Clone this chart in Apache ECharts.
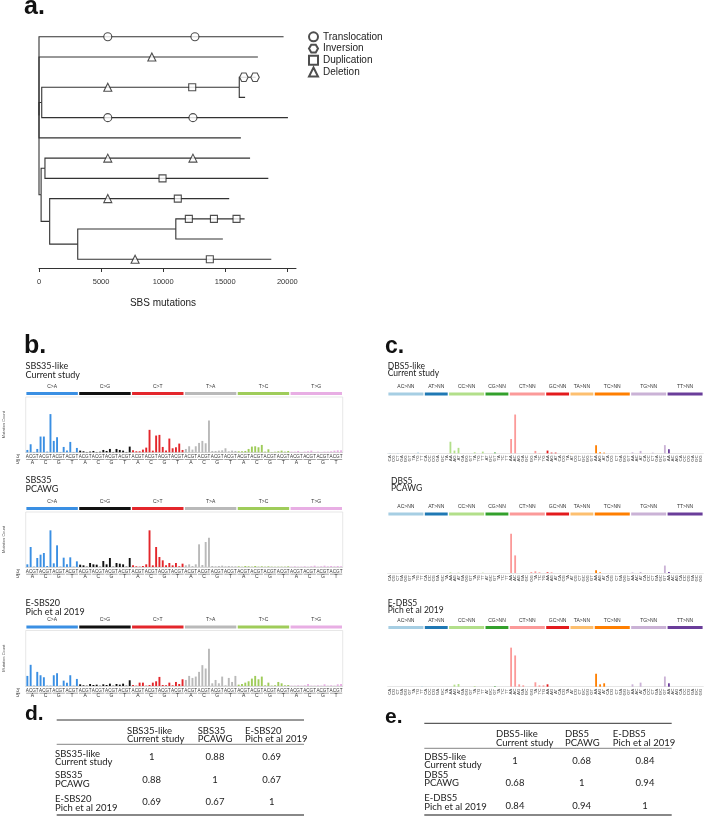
<!DOCTYPE html>
<html><head><meta charset="utf-8">
<script src="https://cdn.jsdelivr.net/npm/echarts@6/dist/echarts.min.js"></script>
<style>html,body{margin:0;padding:0;background:#fff}#c{width:705px;height:820px}</style>
</head><body><div id="c"></div>
<script>
// ---------- Panel a: phylogenetic tree (SBS mutations) ----------
const treeTicks = [0, 5000, 10000, 15000, 20000];
const branchStart = [0, 0, 0, 0, 0, 220, 220, 16130, 16130, 170, 170, 480, 480, 860, 860, 3120, 3120, 11020, 11020];
const branchEnd   = [19700, 17630, 220, 16260, 170, 16130, 20050, 17450, 16600, 480, 860, 17000, 18470, 15320, 3120, 11020, 18710, 16560, 14810];
const branchRow   = [1, 2, 4.25, 6, 8.81, 3.5, 5, 3, 4, 7.5, 10.125, 7, 8, 9, 11.25, 10.5, 12, 10, 11];
const parentRow   = [4.9, 4.9, 4.9, 4.9, 4.9, 4.25, 4.25, 3.5, 3.5, 8.81, 8.81, 7.5, 7.5, 10.125, 10.125, 11.25, 11.25, 10.5, 10.5];

const eventNames = ['Translocation', 'Inversion', 'Duplication', 'Deletion'];
const translocationX = [5540, 12560, 5540, 12400];
const translocationRow = [1, 1, 5, 5];
const inversionX = [16500, 17400];
const inversionRow = [3, 3];
const duplicationX = [12340, 9950, 11180, 12070, 14090, 15910, 13760];
const duplicationRow = [3.5, 8, 9, 10, 10, 10, 12];
const deletionX = [9090, 5540, 5540, 12400, 5540, 7740];
const deletionRow = [2, 3.5, 7, 7, 9, 12];

// ---------- Panel b: SBS 96-channel profiles ----------
const sbsTypes = ['C>A', 'C>G', 'C>T', 'T>A', 'T>C', 'T>G'];
const bases = ['A', 'C', 'G', 'T'];
const sbsTitles = [['SBS35-like', 'Current study'], ['SBS35', 'PCAWG'], ['E-SBS20', 'Pich et al 2019']];
const sbsCurrent = [
  7,24,1,10,47,47,2,114,34,45,1,16,5,31,1,13,
  5,3,1,2,4,1,2,7,4,10,1,10,7,5,1,17,
  6,3,3,8,14,67,5,50,52,16,5,41,12,15,26,7,
  10,18,8,18,28,34,27,95,4,4,5,6,12,3,5,4,
  3,3,4,10,17,18,15,22,2,9,1,2,3,5,2,4,
  2,2,4,1,2,3,5,1,2,1,2,2,3,5,6,6];
const sbsPcawg = [
  8,60,1,27,37,42,3,110,11,65,1,28,8,29,1,17,
  7,5,1,12,8,7,1,18,8,27,1,12,10,8,1,27,
  5,2,1,3,8,110,5,60,30,20,5,12,5,12,2,10,
  5,8,3,8,68,6,75,88,3,2,3,4,2,3,2,2,
  2,1,3,2,1,3,1,2,1,2,1,1,1,1,1,2,
  1,2,1,1,2,1,2,4,1,2,4,2,3,2,3,2];
const sbsPich = [
  30,63,1,42,32,26,1,1,32,38,1,16,10,32,1,21,
  5,2,1,6,3,4,1,5,3,7,1,6,4,7,1,17,
  3,1,10,10,1,3,10,14,27,3,2,10,2,12,6,20,
  18,30,24,28,42,62,52,111,8,18,8,28,2,24,12,30,
  4,6,10,14,22,30,20,28,2,10,1,2,12,8,2,3,
  1,1,2,1,2,6,1,1,2,1,5,1,2,1,5,6];

// ---------- Panel c: DBS 78-channel profiles ----------
const dbsRefs = ['AC', 'AT', 'CC', 'CG', 'CT', 'GC', 'TA', 'TC', 'TG', 'TT'];
const dbsAlts = [
  ['CA','CG','CT','GA','GG','GT','TA','TG','TT'],
  ['CA','CC','CG','GA','GC','TA'],
  ['AA','AG','AT','GA','GG','GT','TA','TG','TT'],
  ['AT','GC','GT','TA','TC','TT'],
  ['AA','AC','AG','GA','GC','GG','TA','TC','TG'],
  ['AA','AG','AT','CA','CG','TA'],
  ['AT','CG','CT','GC','GG','GT'],
  ['AA','AG','AT','CA','CG','CT','GA','GG','GT'],
  ['AA','AC','AT','CA','CC','CT','GA','GC','GT'],
  ['AA','AC','AG','CA','CC','CG','GA','GC','GG']];
const dbsTitles = [['DBS5-like', 'Current study'], ['DBS5', 'PCAWG'], ['E-DBS5', 'Pich et al 2019']];
const dbsCurrent = [
  1,0,1,0,0,0,0,2,0,
  0,0,0,0,0,0,
  34,8,16,0,0,0,3,0,5,
  0,0,2,0,0,0,
  42,114,0,0,0,0,7,1,0,
  8,2,2,0,0,0,
  1,0,0,0,0,0,
  24,3,2,0,0,0,0,0,0,
  3,0,7,0,0,2,0,0,24,
  12,0,0,0,0,0,0,0,0];
const dbsPcawg = [
  0,0,0,0,0,0,0,1,0,
  0,0,0,0,0,0,
  2,0,1,0,0,0,0,0,1,
  0,0,0,0,0,0,
  116,52,0,0,0,3,5,2,0,
  2,1,0,0,0,0,
  0,0,0,0,0,0,
  8,2,0,0,0,0,0,0,0,
  2,0,3,0,0,0,0,0,22,
  3,0,0,0,0,0,0,0,0];
const dbsPich = [
  0,0,0,0,0,0,0,0,1,
  0,0,0,0,0,0,
  0,6,8,0,0,0,2,0,0,
  0,0,1,0,0,0,
  115,92,7,4,0,0,13,4,4,
  7,0,0,0,0,0,
  0,0,0,0,0,0,
  38,7,10,0,0,0,0,0,0,
  7,0,12,0,0,0,0,0,30,
  10,0,0,0,0,0,0,0,0];

// ---------- Panels d, e: cosine similarity tables ----------
const tableDNames = [['SBS35-like', 'Current study'], ['SBS35', 'PCAWG'], ['E-SBS20', 'Pich et al 2019']];
const tableDValues = [['1', '0.88', '0.69'], ['0.88', '1', '0.67'], ['0.69', '0.67', '1']];
const tableENames = [['DBS5-like', 'Current study'], ['DBS5', 'PCAWG'], ['E-DBS5', 'Pich et al 2019']];
const tableEValues = [['1', '0.68', '0.84'], ['0.68', '1', '0.94'], ['0.84', '0.94', '1']];

// ================= styling / layout =================
const sbsColors = ['#3a8fe3', '#111111', '#e3262b', '#b9b9b9', '#9fcc5a', '#e8aee4'];
const dbsColors = ['#a6cee3', '#1f78b4', '#b2df8a', '#33a02c', '#fb9a99', '#e31a1c', '#fdbf6f', '#ff7f00', '#cab2d6', '#6a3d9a'];
const SANS = 'Liberation Sans, Arial, sans-serif';
const HUM = 'Lato, Open Sans, sans-serif';

const sbsCategories = [];
sbsTypes.forEach(t => bases.forEach(b5 => bases.forEach(b3 => sbsCategories.push(b5 + '[' + t + ']' + b3))));
const fivePrime = [];
sbsTypes.forEach(() => bases.forEach(b => fivePrime.push(b)));
const dbsCategories = [];
const dbsGroupOf = [];
dbsRefs.forEach((r, g) => dbsAlts[g].forEach(a => { dbsCategories.push(r + '>' + a); dbsGroupOf.push(g); }));
const dbsStarts = [], dbsEnds = [];
{ let s = 0; dbsAlts.forEach(a => { dbsStarts.push(s); dbsEnds.push(s + a.length - 1); s += a.length; }); }
const sbsStarts = sbsTypes.map((t, i) => i * 16), sbsEnds = sbsTypes.map((t, i) => i * 16 + 15);

const sbsTops = [397, 512, 630.5], sbsH = [55.3, 55, 55.5];
const dbsTops = [397.5, 517.5, 631], dbsH = [55.8, 55.5, 55.7];
const sbsData = [sbsCurrent, sbsPcawg, sbsPich];
const dbsData = [dbsCurrent, dbsPcawg, dbsPich];

const grid = [{ left: 39, top: 26.6, width: 257, height: 241.4 }];
const xAxis = [{
  gridIndex: 0, type: 'value', min: 0, max: 20700,
  axisLine: { lineStyle: { color: '#333', width: 1 } },
  axisTick: { length: 4, lineStyle: { color: '#333' }, customValues: treeTicks },
  axisLabel: { customValues: treeTicks, formatter: v => String(v), fontSize: 7.5, color: '#333', fontFamily: SANS, margin: 10 },
  splitLine: { show: false }
}];
const yAxis = [{ gridIndex: 0, type: 'value', inverse: true, min: 0.5, max: 12.43, show: false }];
const series = [];

series.push({
  type: 'custom', xAxisIndex: 0, yAxisIndex: 0, silent: true,
  data: branchStart.map((s, i) => [s, branchEnd[i], branchRow[i], parentRow[i]]),
  encode: { x: [0, 1], y: [2, 3] },
  renderItem: (params, api) => {
    const p0 = api.coord([api.value(0), api.value(3)]);
    const p1 = api.coord([api.value(0), api.value(2)]);
    const p2 = api.coord([api.value(1), api.value(2)]);
    return { type: 'polyline', shape: { points: [p0, p1, p2] }, style: { stroke: '#333', lineWidth: 1.1, fill: null } };
  }
});
const hexPath = 'path://M5,0 L15,0 L20,8.66 L15,17.32 L5,17.32 L0,8.66 Z';
const evts = [
  [translocationX, translocationRow, 'circle', 8],
  [inversionX, inversionRow, hexPath, 8.5],
  [duplicationX, duplicationRow, 'rect', 7],
  [deletionX, deletionRow, 'triangle', 8]];
evts.forEach((e, k) => series.push({
  name: eventNames[k], type: 'scatter', xAxisIndex: 0, yAxisIndex: 0, z: 5,
  symbol: e[2], symbolSize: e[3],
  itemStyle: { color: '#fff', borderColor: '#222', borderWidth: 1.1 },
  data: e[0].map((x, i) => [x, e[1][i]])
}));

function stripRender(labels, colors, starts, ends) {
  return (params, api) => {
    const i = params.dataIndex, cs = params.coordSys;
    const bw = api.size([1, 0])[0];
    const x0 = api.coord([starts[i], 0])[0] - bw / 2;
    const x1 = api.coord([ends[i], 0])[0] + bw / 2;
    return { type: 'group', children: [
      { type: 'rect', shape: { x: x0 + 0.7, y: cs.y - 5, width: x1 - x0 - 1.4, height: 3 }, style: { fill: colors[i] } },
      { type: 'text', style: { text: labels[i], x: (x0 + x1) / 2, y: cs.y - 10.5, align: 'center', verticalAlign: 'middle', fontSize: 5, fill: '#333', fontFamily: SANS } }
    ] };
  };
}

// SBS grids
for (let k = 0; k < 3; k++) {
  const gi = grid.length;
  grid.push({ left: 25.7, top: sbsTops[k], width: 317, height: sbsH[k], show: true, borderColor: '#dddddd', borderWidth: 0.7 });
  const xi = xAxis.length;
  xAxis.push({
    gridIndex: gi, type: 'category', data: sbsCategories,
    axisLine: { lineStyle: { color: '#cccccc', width: 0.7 } }, axisTick: { show: false },
    axisLabel: { interval: 0, formatter: v => v.slice(-1), fontSize: 4.6, color: '#333', fontFamily: SANS, margin: 2.2 }
  });
  xAxis.push({
    gridIndex: gi, type: 'category', data: fivePrime, position: 'bottom',
    axisLine: { show: false }, axisTick: { show: false },
    axisLabel: { interval: 0, fontSize: 5, color: '#333', fontFamily: SANS, margin: 7.6 }
  });
  const yi = yAxis.length;
  yAxis.push({
    gridIndex: gi, type: 'value', min: 0, max: 165, axisLabel: { show: false }, axisLine: { show: false },
    axisTick: { show: false }, splitLine: { show: false },
    name: 'Mutation Count', nameLocation: 'middle', nameGap: 20, nameRotate: 90,
    nameTextStyle: { fontSize: 4, color: '#555', fontFamily: SANS }
  });
  series.push({
    type: 'bar', xAxisIndex: xi, yAxisIndex: yi, barWidth: '58%', silent: true,
    data: sbsData[k].map((v, i) => ({ value: v, itemStyle: { color: sbsColors[Math.floor(i / 16)] } }))
  });
  series.push({
    type: 'custom', xAxisIndex: xi, yAxisIndex: yi, silent: true,
    data: sbsStarts.map(s => [s, 0]), encode: { x: 0, y: 1 },
    renderItem: stripRender(sbsTypes, sbsColors, sbsStarts, sbsEnds)
  });
  series.push({
    type: 'custom', xAxisIndex: xi, yAxisIndex: yi, silent: true,
    data: fivePrime.map((b, j) => [j * 4, 0]), encode: { x: 0, y: 1 },
    renderItem: (params, api) => {
      const cs = params.coordSys, bw = api.size([1, 0])[0];
      const s = api.value(0);
      const x0 = api.coord([s, 0])[0] - bw / 2 + 0.5, x1 = api.coord([s + 3, 0])[0] + bw / 2 - 0.5;
      const yb = cs.y + cs.height;
      const ch = [{ type: 'line', shape: { x1: x0, y1: yb + 7.2, x2: x1, y2: yb + 7.2 }, style: { stroke: '#444', lineWidth: 0.5 } }];
      if (params.dataIndex === 0) {
        ch.push({ type: 'text', style: { text: "3'", x: cs.x - 7.5, y: yb + 4.8, align: 'center', verticalAlign: 'middle', fontSize: 5, fill: '#333', fontFamily: SANS } });
        ch.push({ type: 'line', shape: { x1: cs.x - 9.5, y1: yb + 7.2, x2: cs.x - 5.5, y2: yb + 7.2 }, style: { stroke: '#444', lineWidth: 0.5 } });
        ch.push({ type: 'text', style: { text: "5'", x: cs.x - 7.5, y: yb + 10, align: 'center', verticalAlign: 'middle', fontSize: 5, fill: '#333', fontFamily: SANS } });
      }
      return { type: 'group', children: ch };
    }
  });
}

// DBS grids
for (let k = 0; k < 3; k++) {
  const gi = grid.length;
  grid.push({ left: 387.7, top: dbsTops[k], width: 315.6, height: dbsH[k] });
  const xi = xAxis.length;
  xAxis.push({
    gridIndex: gi, type: 'category', data: dbsCategories,
    axisLine: { lineStyle: { color: '#dddddd', width: 0.7 } }, axisTick: { show: false },
    axisLabel: { interval: 0, rotate: 90, formatter: v => v.slice(-2), fontSize: 4.4, color: '#444', fontFamily: SANS, margin: 2 }
  });
  const yi = yAxis.length;
  yAxis.push({ gridIndex: gi, type: 'value', min: 0, max: 164, show: false });
  series.push({
    type: 'bar', xAxisIndex: xi, yAxisIndex: yi, barWidth: '45%', silent: true,
    data: dbsData[k].map((v, i) => ({ value: v, itemStyle: { color: dbsColors[dbsGroupOf[i]] } }))
  });
  series.push({
    type: 'custom', xAxisIndex: xi, yAxisIndex: yi, silent: true,
    data: dbsStarts.map(s => [s, 0]), encode: { x: 0, y: 1 },
    renderItem: stripRender(dbsRefs.map(r => r + '>NN'), dbsColors, dbsStarts, dbsEnds)
  });
}

// ---------- graphic texts ----------
const graphic = [];
function txt(text, x, y, size, opts) {
  graphic.push(Object.assign({ type: 'text', x: x, y: y, silent: true,
    style: Object.assign({ text: text, fontSize: size, fontFamily: HUM, fill: '#222', verticalAlign: 'middle', align: 'left' }, opts || {}) }));
}
function hline(x1, x2, y, w, c) {
  graphic.push({ type: 'line', silent: true, shape: { x1: x1, y1: y, x2: x2, y2: y }, style: { stroke: c, lineWidth: w } });
}
// panel letters
txt('a.', 24, 7, 25, { fontFamily: SANS, fontWeight: 'bold', fill: '#111' });
txt('b.', 24, 346, 25, { fontFamily: SANS, fontWeight: 'bold', fill: '#111' });
txt('c.', 385, 347, 23, { fontFamily: SANS, fontWeight: 'bold', fill: '#111' });
txt('d.', 25, 714, 21, { fontFamily: SANS, fontWeight: 'bold', fill: '#111' });
txt('e.', 385, 717, 21, { fontFamily: SANS, fontWeight: 'bold', fill: '#111' });
txt('SBS mutations', 163, 303, 10, { fontFamily: SANS, align: 'center', fill: '#222' });

// signature titles
const sbsTitleY = [366, 480, 603];
const dbsTitleY = [366, 481, 603];
sbsTitles.forEach((t, k) => txt(t[0] + '\n' + t[1], 25.5, sbsTitleY[k] + 4.5, 9, { lineHeight: 9, verticalAlign: 'middle' }));
dbsTitles.forEach((t, k) => txt(t[0] + '\n' + t[1], k === 1 ? 391 : 387.7, dbsTitleY[k] + 3.8, 8.5, { lineHeight: 7.8 }));

// tables
function table(names, values, L) {
  hline(L.x0, L.x1, L.top, 1, '#333');
  names.forEach((n, j) => txt(n[0] + '\n' + n[1], L.colX[j], L.headY, 9.5, { lineHeight: L.lh }));
  hline(L.x0, L.x1, L.headRule, 0.8, '#666');
  names.forEach((n, i) => {
    txt(n[0] + '\n' + n[1], L.labX, L.rowY[i], 9.5, { lineHeight: L.lh });
    values[i].forEach((v, j) => txt(v, L.valX[j], L.valY[i], 9.5, { align: 'center' }));
  });
  hline(L.x0, L.x1, L.bottom, 1.8, '#888');
}
table(tableDNames, tableDValues, { x0: 56.7, x1: 304, top: 720, headY: 735, lh: 8.6, headRule: 744.3,
  colX: [127, 197.7, 245], labX: 55, rowY: [758, 779.7, 803.3], valX: [151.7, 215, 271.7], valY: [757.3, 780, 802.3], bottom: 815 });
table(tableENames, tableEValues, { x0: 424.3, x1: 671.7, top: 723.3, headY: 738.5, lh: 8.4, headRule: 748.3,
  colX: [496, 565, 612.7], labX: 424.3, rowY: [761.2, 779, 802.3], valX: [515, 581.7, 645], valY: [761, 782.5, 805.5], bottom: 815 });

const chart = echarts.init(document.getElementById('c'), null, { renderer: 'canvas' });
chart.setOption({
  animation: false,
  backgroundColor: '#fff',
  grid: grid, xAxis: xAxis, yAxis: yAxis, series: series, graphic: graphic,
  legend: {
    data: eventNames, orient: 'vertical', left: 308, top: 31, padding: 0,
    itemWidth: 9, itemHeight: 9, itemGap: 0, selectedMode: false,
    textStyle: { fontSize: 10, fontFamily: SANS, color: '#222', lineHeight: 11.7 }
  }
});
</script></body></html>
